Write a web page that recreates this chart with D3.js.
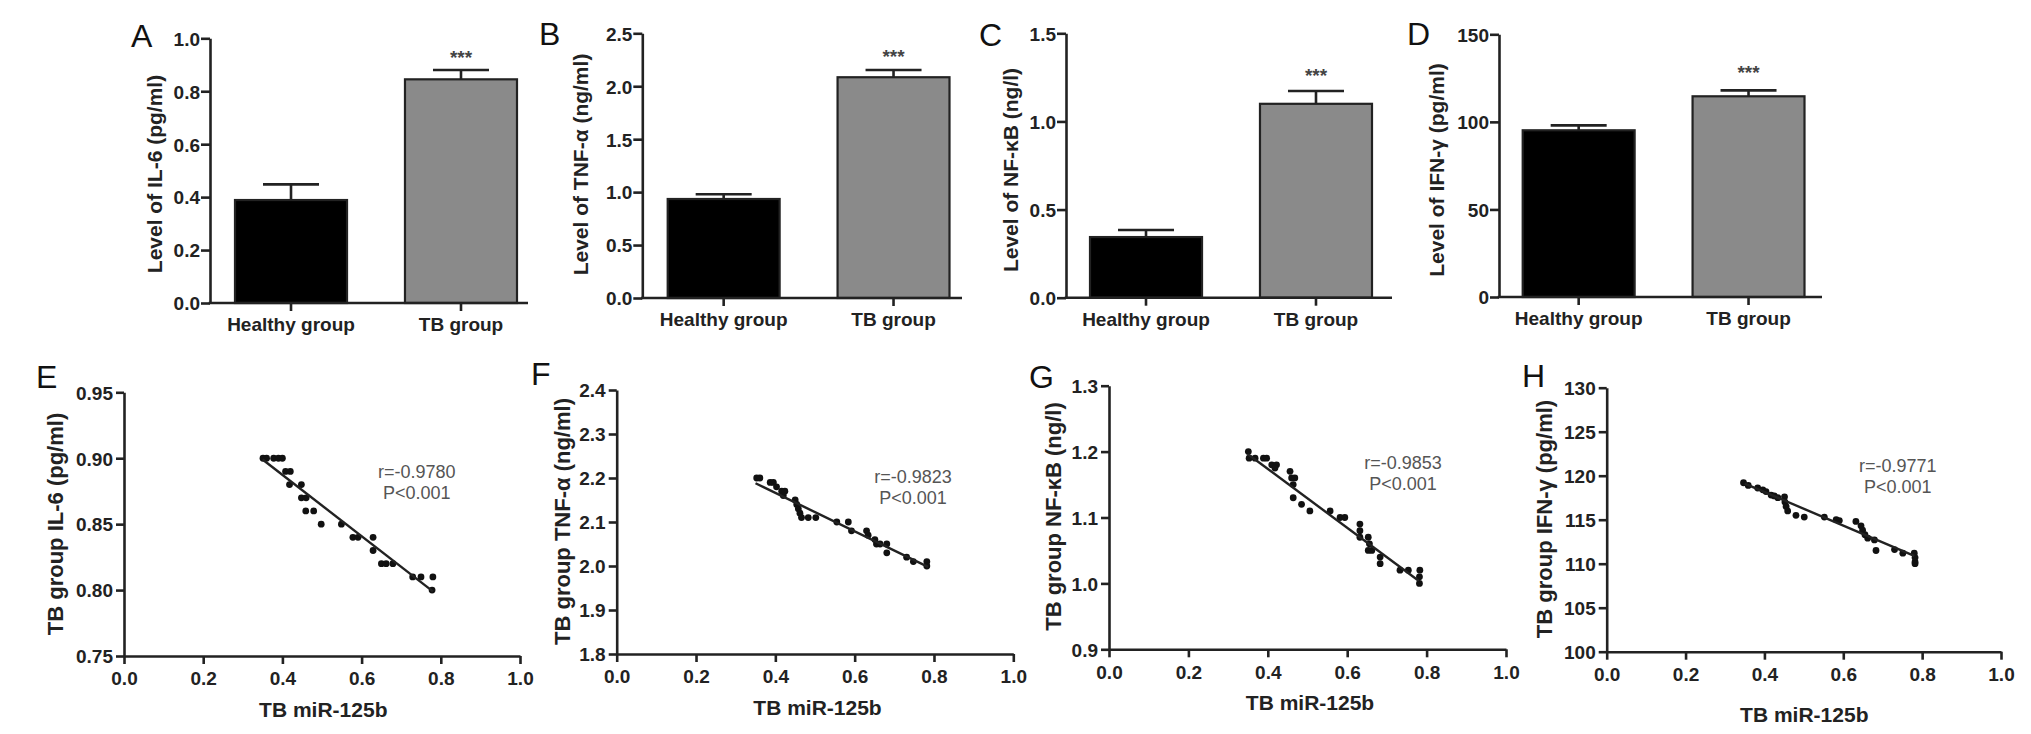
<!DOCTYPE html>
<html><head><meta charset="utf-8">
<script src="https://cdn.jsdelivr.net/npm/d3@7"></script>
<style>
body{margin:0;background:#fff}
text{font-family:"Liberation Sans",Arial,Helvetica,sans-serif}
</style>
</head><body>
<svg id="c" width="2031" height="734"></svg>
<script>
// ---------- data ----------
const groups = ["Healthy group", "TB group"];

const il6Mean = [0.389, 0.845], il6Err = [0.059, 0.035];
const tnfMean = [0.935, 2.085], tnfErr = [0.045, 0.068];
const nfkbMean = [0.344, 1.100], nfkbErr = [0.040, 0.073];
const ifnMean = [95.2, 114.6], ifnErr = [2.8, 3.4];

const il6Ticks = [0, 0.2, 0.4, 0.6, 0.8, 1.0];
const tnfTicks = [0, 0.5, 1.0, 1.5, 2.0, 2.5];
const nfkbTicks = [0, 0.5, 1.0, 1.5];
const ifnTicks = [0, 50, 100, 150];

const mirTicks = [0, 0.2, 0.4, 0.6, 0.8, 1.0];

const eX = [0.351,0.36,0.378,0.39,0.40,0.408,0.42,0.418,0.448,0.448,0.46,0.459,0.479,0.498,0.549,0.578,0.591,0.629,0.629,0.65,0.662,0.679,0.729,0.75,0.78,0.778];
const eY = [0.90,0.90,0.90,0.90,0.90,0.89,0.89,0.88,0.88,0.87,0.87,0.86,0.86,0.85,0.85,0.84,0.84,0.84,0.83,0.82,0.82,0.82,0.81,0.81,0.81,0.80];
const eFitX = [0.35, 0.78], eFitY = [0.899, 0.799];
const eTicks = [0.75, 0.80, 0.85, 0.90, 0.95];

const fX = [0.353,0.361,0.387,0.395,0.403,0.416,0.424,0.42,0.45,0.454,0.458,0.462,0.466,0.483,0.502,0.555,0.584,0.592,0.63,0.634,0.651,0.655,0.664,0.681,0.681,0.731,0.748,0.782,0.782];
const fY = [2.20,2.20,2.19,2.19,2.18,2.17,2.17,2.16,2.15,2.14,2.13,2.12,2.11,2.11,2.11,2.10,2.10,2.08,2.08,2.07,2.06,2.05,2.05,2.05,2.03,2.02,2.01,2.01,2.00];
const fFitX = [0.35, 0.785], fFitY = [2.188, 1.998];
const fTicks = [1.8, 1.9, 2.0, 2.1, 2.2, 2.3, 2.4];

const gX = [0.351,0.353,0.368,0.389,0.397,0.41,0.422,0.418,0.456,0.46,0.468,0.464,0.464,0.485,0.506,0.557,0.582,0.594,0.632,0.632,0.632,0.653,0.656,0.653,0.662,0.683,0.683,0.733,0.754,0.783,0.782,0.782];
const gY = [1.20,1.19,1.19,1.19,1.19,1.18,1.18,1.175,1.17,1.16,1.16,1.15,1.13,1.12,1.11,1.11,1.10,1.10,1.09,1.08,1.07,1.07,1.06,1.05,1.05,1.04,1.03,1.02,1.02,1.02,1.01,1.00];
const gFitX = [0.35, 0.78], gFitY = [1.196, 1.004];
const gTicks = [0.9, 1.0, 1.1, 1.2, 1.3];

const hX = [0.347,0.359,0.383,0.396,0.404,0.417,0.425,0.434,0.451,0.452,0.455,0.459,0.48,0.501,0.552,0.582,0.59,0.632,0.645,0.649,0.655,0.662,0.679,0.683,0.73,0.751,0.78,0.782,0.782,0.782];
const hY = [119.2,118.9,118.6,118.4,118.2,117.8,117.7,117.5,117.6,117.0,116.5,116.0,115.5,115.3,115.3,115.0,114.9,114.8,114.3,113.8,113.3,112.9,112.7,111.5,111.6,111.2,111.2,110.7,110.2,110.0];
const hFitX = [0.35, 0.78], hFitY = [119.1, 110.9];
const hTicks = [100, 105, 110, 115, 120, 125, 130];

// ---------- drawing ----------
const svg = d3.select("#c");
const INK = "#222";

function styleAxis(g, size) {
  g.select(".domain").attr("stroke", INK).attr("stroke-width", 2.6);
  g.selectAll(".tick line").attr("stroke", INK).attr("stroke-width", 2.6);
  g.selectAll(".tick text").attr("fill", INK).attr("font-weight", "bold")
    .attr("font-size", size).attr("font-family", '"Liberation Sans",Arial,sans-serif');
}

function letter(t, x, y) {
  svg.append("text").attr("x", x).attr("y", y).attr("font-size", 32)
    .attr("fill", "#111").text(t);
}

function yTitle(t, cx, cy, size) {
  svg.append("text").attr("transform", `translate(${cx},${cy}) rotate(-90)`)
    .attr("text-anchor", "middle").attr("dy", "0.36em")
    .attr("font-size", size).attr("font-weight", "bold").attr("fill", INK).text(t);
}

function barPanel(c) {
  const y = d3.scaleLinear().domain([c.ticks[0], c.ticks[c.ticks.length - 1]]).range([c.bottom, c.top]);
  const x = d3.scaleBand().domain(groups).range([c.bar0, c.bar1]).paddingInner(0.341);
  const g = svg.append("g");
  g.selectAll("rect.bar").data(c.mean).join("rect").attr("class", "bar")
    .attr("x", (d, i) => x(groups[i])).attr("width", x.bandwidth())
    .attr("y", d => y(d)).attr("height", d => y(c.ticks[0]) - y(d))
    .attr("fill", (d, i) => i ? "#8a8a8a" : "#000")
    .attr("stroke", INK).attr("stroke-width", 2.2);
  // error bars
  c.mean.forEach((m, i) => {
    const cx = x(groups[i]) + x.bandwidth() / 2;
    g.append("line").attr("x1", cx).attr("x2", cx).attr("y1", y(m)).attr("y2", y(m + c.err[i]))
      .attr("stroke", INK).attr("stroke-width", 2.6);
    g.append("line").attr("x1", cx - 28).attr("x2", cx + 28).attr("y1", y(m + c.err[i])).attr("y2", y(m + c.err[i]))
      .attr("stroke", INK).attr("stroke-width", 2.6);
  });
  // stars
  const cx2 = x(groups[1]) + x.bandwidth() / 2;
  g.append("text").attr("x", cx2).attr("y", c.starY + 10).attr("text-anchor", "middle")
    .attr("font-size", 19).attr("font-weight", "bold").attr("fill", "#444").text("***");
  // y axis
  const ya = g.append("g").attr("transform", `translate(${c.ax},0)`)
    .call(d3.axisLeft(y).tickValues(c.ticks).tickFormat(d3.format(c.fmt)).tickSize(9).tickSizeOuter(0).tickPadding(1));
  styleAxis(ya, 19);
  ya.selectAll(".tick text").attr("dy", "0.36em");
  // x axis
  const xa = g.append("g").attr("transform", `translate(0,${c.bottom})`)
    .call(d3.axisBottom(x).tickSize(8).tickSizeOuter(0).tickPadding(7));
  xa.select(".domain").remove();
  styleAxis(xa, 19);
  g.append("line").attr("x1", c.ax - 1.3).attr("x2", c.axEnd).attr("y1", c.bottom).attr("y2", c.bottom)
    .attr("stroke", INK).attr("stroke-width", 2.6);
  yTitle(c.title, c.tx, c.ty, 21);
  letter(c.letter, c.lx, c.ly);
}

function scatterPanel(c) {
  const x = d3.scaleLinear().domain([0, 1]).range([c.ax, c.xEnd]);
  const y = d3.scaleLinear().domain([c.ticks[0], c.ticks[c.ticks.length - 1]]).range([c.bottom, c.top]);
  const g = svg.append("g");
  const ya = g.append("g").attr("transform", `translate(${c.ax},0)`)
    .call(d3.axisLeft(y).tickValues(c.ticks).tickFormat(d3.format(c.fmt)).tickSize(8).tickSizeOuter(0).tickPadding(3));
  styleAxis(ya, 19);
  ya.selectAll(".tick text").attr("dy", "0.36em");
  const xa = g.append("g").attr("transform", `translate(0,${c.bottom})`)
    .call(d3.axisBottom(x).tickValues(mirTicks).tickFormat(d3.format(".1f")).tickSize(8).tickSizeOuter(0).tickPadding(8));
  styleAxis(xa, 19);
  // points
  g.selectAll("circle").data(c.xs).join("circle")
    .attr("cx", d => x(d)).attr("cy", (d, i) => y(c.ys[i])).attr("r", 3.4).attr("fill", "#111");
  // fit line
  g.append("line").attr("x1", x(c.fitX[0])).attr("x2", x(c.fitX[1]))
    .attr("y1", y(c.fitY[0])).attr("y2", y(c.fitY[1])).attr("stroke", INK).attr("stroke-width", 2.4);
  // stats
  g.append("text").attr("x", c.rx).attr("y", c.ry).attr("dy", "0.36em").attr("text-anchor", "middle")
    .attr("font-size", 18).attr("fill", "#555").text(c.r);
  g.append("text").attr("x", c.rx).attr("y", c.ry + 20.5).attr("dy", "0.36em").attr("text-anchor", "middle")
    .attr("font-size", 18).attr("fill", "#555").text("P<0.001");
  // x title
  g.append("text").attr("x", c.xtx).attr("y", c.xty).attr("text-anchor", "middle")
    .attr("font-size", 21).attr("font-weight", "bold").attr("fill", INK).text("TB miR-125b");
  yTitle(c.title, c.tx, c.ty, 22);
  letter(c.letter, c.lx, c.ly);
}

barPanel({letter: "A", lx: 131, ly: 47, mean: il6Mean, err: il6Err, ticks: il6Ticks, fmt: ".1f",
  ax: 210, top: 38.3, bottom: 303, bar0: 235, bar1: 517, axEnd: 528, starY: 54,
  title: "Level of IL-6 (pg/ml)", tx: 154, ty: 174});
barPanel({letter: "B", lx: 539, ly: 45, mean: tnfMean, err: tnfErr, ticks: tnfTicks, fmt: ".1f",
  ax: 642.3, top: 33.3, bottom: 298, bar0: 667.7, bar1: 949.5, axEnd: 962, starY: 53,
  title: "Level of TNF-α (ng/ml)", tx: 580, ty: 164.5});
barPanel({letter: "C", lx: 979, ly: 46, mean: nfkbMean, err: nfkbErr, ticks: nfkbTicks, fmt: ".1f",
  ax: 1066, top: 33.3, bottom: 297.7, bar0: 1090, bar1: 1372, axEnd: 1392, starY: 71.7,
  title: "Level of NF-κB (ng/l)", tx: 1010, ty: 170});
barPanel({letter: "D", lx: 1407, ly: 45, mean: ifnMean, err: ifnErr, ticks: ifnTicks, fmt: "d",
  ax: 1499, top: 34.3, bottom: 297, bar0: 1522.7, bar1: 1804.5, axEnd: 1822, starY: 69,
  title: "Level of IFN-γ (pg/ml)", tx: 1436.7, ty: 170});

scatterPanel({letter: "E", lx: 36, ly: 388, xs: eX, ys: eY, fitX: eFitX, fitY: eFitY, ticks: eTicks, fmt: ".2f",
  ax: 124, xEnd: 520, top: 392.3, bottom: 656, r: "r=-0.9780", rx: 416.7, ry: 472,
  xtx: 323.3, xty: 717, title: "TB group IL-6 (pg/ml)", tx: 55, ty: 524});
scatterPanel({letter: "F", lx: 531, ly: 385, xs: fX, ys: fY, fitX: fFitX, fitY: fFitY, ticks: fTicks, fmt: ".1f",
  ax: 616.7, xEnd: 1013.3, top: 390, bottom: 654, r: "r=-0.9823", rx: 913, ry: 477,
  xtx: 817.5, xty: 715, title: "TB group TNF-α (ng/ml)", tx: 561.7, ty: 521.5});
scatterPanel({letter: "G", lx: 1029, ly: 388, xs: gX, ys: gY, fitX: gFitX, fitY: gFitY, ticks: gTicks, fmt: ".1f",
  ax: 1109, xEnd: 1506, top: 385.7, bottom: 649.3, r: "r=-0.9853", rx: 1403, ry: 462.7,
  xtx: 1310, xty: 710, title: "TB group NF-κB (ng/l)", tx: 1053, ty: 516.5});
scatterPanel({letter: "H", lx: 1522, ly: 387, xs: hX, ys: hY, fitX: hFitX, fitY: hFitY, ticks: hTicks, fmt: "d",
  ax: 1606.7, xEnd: 2001, top: 387.7, bottom: 651.7, r: "r=-0.9771", rx: 1897.7, ry: 466,
  xtx: 1804.3, xty: 722, title: "TB group IFN-γ (pg/ml)", tx: 1544.3, ty: 519});
</script>
</body></html>
